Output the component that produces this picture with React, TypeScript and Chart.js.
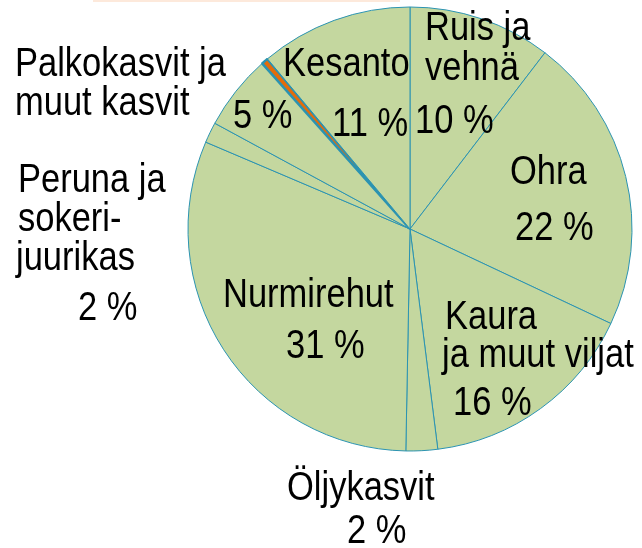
import React, { useEffect, useRef } from "react";
import { Chart, registerables } from "chart.js";

Chart.register(...registerables);

const categories = [
  "Ruis ja vehnä",
  "Ohra",
  "Kaura ja muut viljat",
  "Öljykasvit",
  "Nurmirehut",
  "Peruna ja sokerijuurikas",
  "Palkokasvit ja muut kasvit",
  "Muu",
  "Kesanto",
];
const shares = [10.4, 21.6, 16.0, 2.3, 31.1, 1.5, 5.5, 0.5, 11.1];
const sliceColors = [
  "#c4d79f", "#c4d79f", "#c4d79f", "#c4d79f", "#c4d79f",
  "#c4d79f", "#c4d79f", "#e46c0a", "#c4d79f",
];
const sliceBorders = [1, 1, 1, 1, 1, 1, 1, 2.5, 1];

// label lines: text and offset of baseline-left from the pie centre
const labelLines: [string, number, number][] = [
  ["Palkokasvit ja", -395, -153],
  ["muut kasvit", -395, -114],
  ["5 %", -177, -101],
  ["Kesanto", -127, -153],
  ["11 %", -78, -93],
  ["Ruis ja", 15, -189],
  ["vehnä", 15, -149],
  ["10 %", 5, -96],
  ["Ohra", 100, -45],
  ["22 %", 105, 11],
  ["Kaura", 35, 100],
  ["ja muut viljat", 32, 138],
  ["16 %", 43, 186],
  ["Öljykasvit", -123, 271],
  ["2 %", -63, 314],
  ["Peruna ja", -392, -37],
  ["sokeri-", -392, 2],
  ["juurikas", -394, 41],
  ["2 %", -332, 91],
  ["Nurmirehut", -187, 78],
  ["31 %", -124, 129],
];

const labelPlugin = {
  id: "sliceLabels",
  afterDraw(chart: any) {
    const ctx = chart.ctx as CanvasRenderingContext2D;
    const arc = chart.getDatasetMeta(0).data[0] as any;
    const cx = arc.x;
    const cy = arc.y;
    ctx.save();
    // thin peach strip at the very top
    ctx.fillStyle = "#fde9db";
    ctx.fillRect(93, 0, 307, 2);
    ctx.fillStyle = "#000000";
    ctx.font = "34.5px 'Liberation Sans', Arial, sans-serif";
    ctx.textAlign = "left";
    ctx.textBaseline = "alphabetic";
    for (const [t, dx, dy] of labelLines) {
      ctx.save();
      ctx.translate(cx + dx, cy + dy);
      ctx.scale(1, 1.18);
      ctx.fillText(t, 0, 0);
      ctx.restore();
    }
    ctx.restore();
  },
};

export default function App() {
  const ref = useRef<HTMLCanvasElement | null>(null);
  useEffect(() => {
    if (!ref.current) return;
    const chart = new Chart(ref.current, {
      type: "pie",
      data: {
        labels: categories,
        datasets: [
          {
            data: shares,
            backgroundColor: sliceColors,
            borderColor: "#2b93b1",
            borderWidth: sliceBorders,
          },
        ],
      },
      options: {
        responsive: false,
        animation: false,
        radius: 222,
        layout: { padding: { left: 188, right: 10, top: 7, bottom: 97 } },
        plugins: {
          legend: { display: false },
          tooltip: { enabled: false },
        },
      } as any,
      plugins: [labelPlugin],
    });
    return () => chart.destroy();
  }, []);
  return (
    <div style={{ position: "absolute", left: 0, top: 0, width: 642, height: 548, background: "#ffffff" }}>
      <canvas ref={ref} width={642} height={548} style={{ width: 642, height: 548 }} />
    </div>
  );
}
